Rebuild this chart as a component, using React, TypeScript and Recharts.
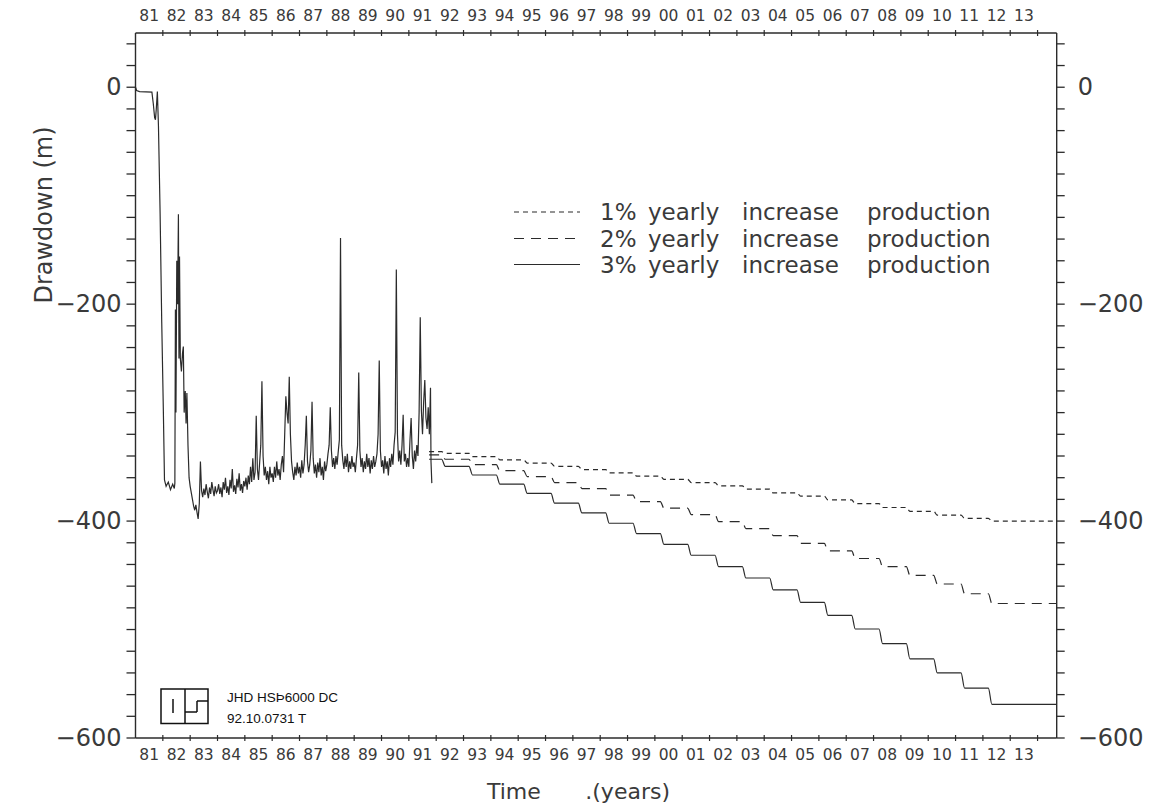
import React from 'react';
import { LineChart, Line, XAxis, YAxis, Customized } from 'recharts';

// ---------- layout ----------
const W = 1152;
const H = 808;
const PLOT_L = 135.5;
const PLOT_R = 1056.7;
const PLOT_T = 33;
const PLOT_B = 738;
const AX_H = 30;
const AX_W = 60;
const X_MIN = 1981;
const X_MAX = 2014.7;
const Y_MIN = -600;
const Y_MAX = 50;
const HALF_YEAR_PX = (PLOT_R - PLOT_L) / (X_MAX - X_MIN) / 2;

const INK = '#2b2b2b';
const TEXT = '#3a3a3a';
const FONT = '"DejaVu Sans", sans-serif';

// ---------- axis ticks / labels ----------
const yearBoundaries = [1981, 1982, 1983, 1984, 1985, 1986, 1987, 1988, 1989, 1990, 1991, 1992, 1993, 1994, 1995, 1996, 1997, 1998, 1999, 2000, 2001, 2002, 2003, 2004, 2005, 2006, 2007, 2008, 2009, 2010, 2011, 2012, 2013, 2014];
const yearLabels = ['81', '82', '83', '84', '85', '86', '87', '88', '89', '90', '91', '92', '93', '94', '95', '96', '97', '98', '99', '00', '01', '02', '03', '04', '05', '06', '07', '08', '09', '10', '11', '12', '13'];
const yTicks = [-600, -580, -560, -540, -520, -500, -480, -460, -440, -420, -400, -380, -360, -340, -320, -300, -280, -260, -240, -220, -200, -180, -160, -140, -120, -100, -80, -60, -40, -20, 0, 20, 40];
const yLabelledValues = [0, -200, -400, -600];

// ---------- measured drawdown (m) ----------
const earlyYears = [1981.0, 1981.04, 1981.15, 1981.6, 1981.65, 1981.7, 1981.73, 1981.76, 1981.8, 1981.84, 1981.9, 1981.96, 1982.02, 1982.06, 1982.12, 1982.2, 1982.28, 1982.36, 1982.42, 1982.44, 1982.46, 1982.48, 1982.51, 1982.54, 1982.57, 1982.59, 1982.61, 1982.64, 1982.68, 1982.72, 1982.75, 1982.78, 1982.82, 1982.85, 1982.88, 1982.92, 1982.96];
const earlyDrawdown = [0, -3, -4, -4.5, -15, -28, -30, -20, -4, -36, -116, -217, -300, -362, -368, -364, -371, -366, -370, -365, -205, -300, -160, -200, -117, -250, -156, -250, -262, -245, -239, -300, -280, -310, -282, -330, -360];

// semi-monthly values from 1983.0
const BAND_START = 1983;
const bandSemiMonthly = [
  // 1983
  -368, -374, -380, -386, -390, -385, -392, -398, -384, -345, -372, -378, -370, -376, -366, -373, -379, -369, -375, -364, -371, -377, -368, -374,
  // 1984
  -372, -366, -375, -369, -378, -364, -371, -360, -374, -368, -376, -362, -370, -352, -373, -367, -375, -361, -369, -356, -372, -366, -374, -363,
  // 1985
  -368, -360, -371, -358, -366, -350, -364, -342, -362, -355, -303, -352, -362, -346, -330, -271, -340, -358, -350, -362, -354, -366, -350, -360,
  // 1986
  -356, -364, -350, -360, -345, -358, -352, -362, -348, -340, -355, -320, -285, -300, -310, -267, -320, -345, -355, -362, -350, -358, -346, -356,
  // 1987
  -350, -360, -344, -356, -348, -330, -303, -345, -355, -348, -335, -290, -342, -356, -348, -360, -346, -355, -342, -358, -350, -362, -345, -354,
  // 1988
  -348, -338, -330, -295, -335, -350, -342, -352, -340, -348, -336, -325, -139, -330, -344, -352, -340, -350, -338, -355, -345, -352, -340, -350,
  // 1989
  -346, -355, -342, -330, -263, -335, -350, -342, -355, -345, -352, -338, -350, -342, -356, -344, -352, -340, -350, -345, -338, -320, -252, -335,
  // 1990
  -350, -344, -356, -340, -352, -345, -358, -342, -350, -338, -348, -330, -318, -168, -320, -345, -335, -348, -330, -302, -345, -338, -350, -342,
  // 1991
  -350, -325, -305, -340, -352, -335, -345, -330, -340, -300, -212, -298, -320, -290, -270, -305, -315, -295, -320, -277,
];
const tailYears = [1991.81, 1991.84];
const tailDrawdown = [-345, -365];

// ---------- predictions (m), level reached after each yearly step ----------
const predStartYear = 1991.74;
const predEndYear = 2014.7;
const stepYears = [1992, 1993, 1994, 1995, 1996, 1997, 1998, 1999, 2000, 2001, 2002, 2003, 2004, 2005, 2006, 2007, 2008, 2009, 2010, 2011, 2012];
const pred1Start = -336;
const pred1Levels = [-337.5, -340.5, -343.5, -346.5, -349.5, -352.5, -355.5, -358.5, -361.5, -364.5, -367.5, -370.5, -374, -377, -380.5, -384, -387.5, -391, -394.5, -397.5, -400];
const pred2Start = -339;
const pred2Levels = [-343, -348, -353.5, -359, -364.5, -370, -376, -382, -388, -394, -400.5, -407, -413.5, -420.5, -427.5, -434.5, -442, -450, -458, -467, -476];
const pred3Start = -343;
const pred3Levels = [-349.5, -357.5, -366, -374.5, -383.5, -392.5, -402, -411.5, -421.5, -431.5, -442, -452.5, -463.5, -475, -487, -499.5, -513, -527, -540, -554, -569];

const legendLabels = ['1%', '2%', '3%'];
const legendWords = ['yearly', 'increase', 'production'];

// ---------- build tables ----------
const historical = [
  ...earlyYears.map((t, i) => ({ t, v: earlyDrawdown[i] })),
  ...bandSemiMonthly.map((v, i) => ({ t: BAND_START + i / 24, v })),
  ...tailYears.map((t, i) => ({ t, v: tailDrawdown[i] })),
];

const RAMP_A = 0.2;
const RAMP_B = 0.33;
function buildPrediction(start: number, levels: number[]) {
  const pts = [{ t: predStartYear, v: start }];
  let prev = start;
  stepYears.forEach((y, i) => {
    pts.push({ t: y + RAMP_A, v: prev });
    pts.push({ t: y + RAMP_B, v: levels[i] });
    prev = levels[i];
  });
  pts.push({ t: predEndYear, v: prev });
  return pts;
}
const pred1 = buildPrediction(pred1Start, pred1Levels);
const pred2 = buildPrediction(pred2Start, pred2Levels);
const pred3 = buildPrediction(pred3Start, pred3Levels);

const DASH_1 = '5 4';
const DASH_2 = '10 7';

// ---------- tick renderers ----------
function XTick(props: any, side: 'top' | 'bottom') {
  const { x, y, payload } = props;
  const v = payload.value as number;
  const idx = yearBoundaries.indexOf(v);
  const label = yearLabels[idx];
  const ly = side === 'top' ? y - 17 : y + 17;
  return (
    <g>
      {v > X_MIN && <line x1={x} x2={x} y1={y - 3} y2={y + 3} stroke={INK} strokeWidth={1.2} />}
      {label && (
        <text x={x + HALF_YEAR_PX} y={ly} textAnchor="middle" dominantBaseline="central" fontFamily={FONT} fontSize={15.5} fill={TEXT}>
          {label}
        </text>
      )}
    </g>
  );
}

function fmtY(v: number) {
  return v < 0 ? '\u2212' + String(-v) : String(v);
}

function YTick(props: any, side: 'left' | 'right') {
  const { x, y, payload } = props;
  const v = payload.value as number;
  if (!yLabelledValues.includes(v)) return <g />;
  return (
    <text
      x={side === 'left' ? x - 5 : x + 13}
      y={y}
      textAnchor={side === 'left' ? 'end' : 'start'}
      dominantBaseline="central"
      fontFamily={FONT}
      fontSize={24}
      fill={TEXT}
    >
      {fmtY(v)}
    </text>
  );
}

// ---------- decorations ----------
function Decorations() {
  const rows = [212, 238.5, 264.5];
  const dashes = [DASH_1, DASH_2, undefined];
  const wordX = [648, 742, 867];
  return (
    <g>
      <text
        transform="translate(44,215) rotate(-90)"
        textAnchor="middle"
        dominantBaseline="central"
        fontFamily={FONT}
        fontSize={24}
        fill={TEXT}
      >
        Drawdown  (m)
      </text>
      <text x={487} y={791} dominantBaseline="central" fontFamily={FONT} fontSize={22} fill={TEXT}>Time</text>
      <text x={670} y={791} textAnchor="end" dominantBaseline="central" fontFamily={FONT} fontSize={22} fill={TEXT}>.(years)</text>

      {rows.map((ry, i) => (
        <g key={i}>
          <line x1={514} x2={580} y1={ry} y2={ry} stroke={INK} strokeWidth={1.2} strokeDasharray={dashes[i]} />
          <text y={ry} dominantBaseline="central" fontFamily={FONT} fontSize={23} fill={TEXT}>
            <tspan x={600}>{legendLabels[i]}</tspan>
            {legendWords.map((w, k) => (
              <tspan key={k} x={wordX[k]}>{w}</tspan>
            ))}
          </text>
        </g>
      ))}

      <g stroke="#111" strokeWidth={1.5} fill="none">
        <rect x={161} y={689} width={47} height={34.5} />
        <line x1={185} x2={185} y1={689} y2={723.5} />
        <line x1={173} x2={173} y1={699} y2={713} />
        <line x1={197} x2={208} y1={701} y2={701} />
        <line x1={197} x2={197} y1={701} y2={712} />
        <line x1={185} x2={197} y1={712} y2={712} />
      </g>
      <text x={227} y={697} dominantBaseline="central" fontFamily='"Liberation Sans", Arial, sans-serif' fontSize={13.5} fill="#111">
        JHD HSÞ6000 DC
      </text>
      <text x={227} y={718} dominantBaseline="central" fontFamily='"Liberation Sans", Arial, sans-serif' fontSize={13.5} fill="#111">
        92.10.0731 T
      </text>
    </g>
  );
}

export default function App() {
  return (
    <div style={{ position: 'absolute', left: 0, top: 0, width: W, height: H, background: '#fff' }}>
      <LineChart
        width={W}
        height={H}
        margin={{ top: PLOT_T - AX_H, left: PLOT_L - AX_W, right: W - PLOT_R - AX_W, bottom: H - PLOT_B - AX_H }}
      >
        <XAxis
          xAxisId="b"
          orientation="bottom"
          type="number"
          dataKey="t"
          domain={[X_MIN, X_MAX]}
          allowDataOverflow
          ticks={yearBoundaries}
          interval={0}
          height={AX_H}
          tickSize={0}
          tickMargin={0}
          tickLine={false}
          axisLine={{ stroke: INK, strokeWidth: 1.4 }}
          tick={(p: any) => XTick(p, 'bottom')}
        />
        <XAxis
          xAxisId="t"
          orientation="top"
          type="number"
          dataKey="t"
          domain={[X_MIN, X_MAX]}
          allowDataOverflow
          ticks={yearBoundaries}
          interval={0}
          height={AX_H}
          tickSize={0}
          tickMargin={0}
          tickLine={false}
          axisLine={{ stroke: INK, strokeWidth: 1.4 }}
          tick={(p: any) => XTick(p, 'top')}
        />
        <YAxis
          yAxisId="l"
          orientation="left"
          type="number"
          domain={[Y_MIN, Y_MAX]}
          allowDataOverflow
          ticks={yTicks}
          interval={0}
          width={AX_W}
          tickSize={9}
          tickMargin={0}
          tickLine={{ stroke: INK, strokeWidth: 1.3 }}
          axisLine={{ stroke: INK, strokeWidth: 1.4 }}
          tick={(p: any) => YTick(p, 'left')}
        />
        <YAxis
          yAxisId="r"
          orientation="right"
          type="number"
          domain={[Y_MIN, Y_MAX]}
          allowDataOverflow
          ticks={yTicks}
          interval={0}
          width={AX_W}
          tickSize={8}
          tickMargin={0}
          tickLine={{ stroke: INK, strokeWidth: 1.3 }}
          axisLine={{ stroke: INK, strokeWidth: 1.4 }}
          tick={(p: any) => YTick(p, 'right')}
        />
        <Line data={historical} xAxisId="b" yAxisId="l" dataKey="v" type="linear" dot={false} stroke={INK} strokeWidth={1.2} isAnimationActive={false} />
        <Line data={pred1} xAxisId="t" yAxisId="r" dataKey="v" type="monotone" dot={false} stroke={INK} strokeWidth={1.2} strokeDasharray={DASH_1} isAnimationActive={false} />
        <Line data={pred2} xAxisId="t" yAxisId="r" dataKey="v" type="monotone" dot={false} stroke={INK} strokeWidth={1.2} strokeDasharray={DASH_2} isAnimationActive={false} />
        <Line data={pred3} xAxisId="t" yAxisId="r" dataKey="v" type="monotone" dot={false} stroke={INK} strokeWidth={1.2} isAnimationActive={false} />
        <Customized component={Decorations} />
      </LineChart>
    </div>
  );
}
